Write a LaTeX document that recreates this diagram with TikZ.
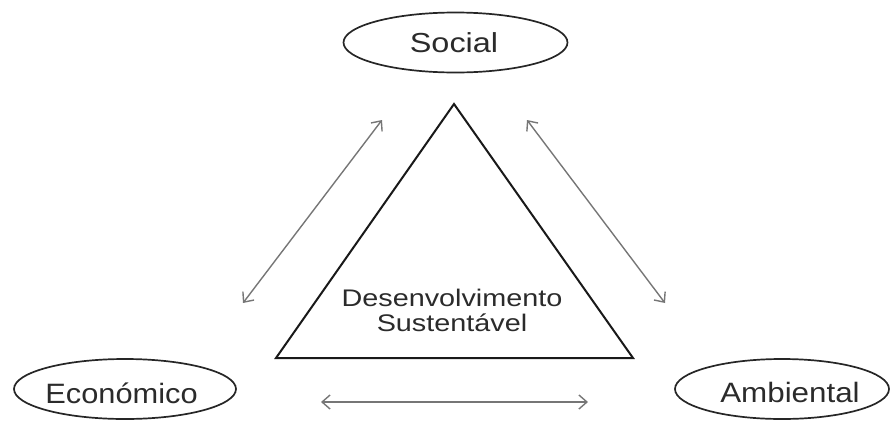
\documentclass[tikz,border=0pt]{standalone}
\usepackage{fontspec}
\setmainfont{Liberation Sans}
\usepackage{graphicx}
\usetikzlibrary{shapes.geometric,arrows.meta}
\definecolor{txt}{HTML}{2B2B2B}
\definecolor{arr}{HTML}{767676}
\begin{document}
\begin{tikzpicture}[x=1pt,y=-1pt,
  oval/.style={draw=black!85,line width=1.7pt,ellipse,inner sep=0pt},
  lbl/.style={text=txt,inner sep=0pt,anchor=base},
  twoway/.style={draw=arr,line width=1.4pt,{Straight Barb[length=8pt,width=14pt]}-{Straight Barb[length=8pt,width=14pt]}},
  tri/.style={draw=black!90,line width=2pt,line join=miter}]
\useasboundingbox (0,0) rectangle (892,421);
% ellipses
\node[oval,minimum width=224pt,minimum height=60pt] (social) at (455.5,42.5) {};
\node[oval,minimum width=222pt,minimum height=60pt] (econ) at (125,389) {};
\node[oval,minimum width=214pt,minimum height=60pt] (amb) at (782,389) {};
% labels
\node[lbl,font=\fontsize{27.5}{27.5}\selectfont] (socialtxt) at (454,52) {\scalebox{1.18}[1]{Social}};
\node[lbl,font=\fontsize{28}{28}\selectfont] (econtxt) at (121.5,403) {\scalebox{1.1}[1]{Económico}};
\node[lbl,font=\fontsize{28}{28}\selectfont] (ambtxt) at (790,402) {\scalebox{1.12}[1]{Ambiental}};
% triangle
\coordinate (apex) at (454,104);
\coordinate (bl) at (276,358);
\coordinate (br) at (633,358);
\draw[tri] (apex) -- (bl) -- (br) -- cycle;
\node[lbl,font=\fontsize{24}{24}\selectfont] (dev1) at (452,306) {\scalebox{1.2}[1]{Desenvolvimento}};
\node[lbl,font=\fontsize{24}{24}\selectfont] (dev2) at (452,331) {\scalebox{1.2}[1]{Sustentável}};
% arrows
\coordinate (l1) at (243,303);
\coordinate (l2) at (382,120);
\coordinate (r1) at (527,120);
\coordinate (r2) at (665,303);
\coordinate (b1) at (321,402);
\coordinate (b2) at (588,402);
\draw[twoway] (l1) -- (l2);
\draw[twoway] (r1) -- (r2);
\draw[twoway] (b1) -- (b2);
\end{tikzpicture}
\end{document}
